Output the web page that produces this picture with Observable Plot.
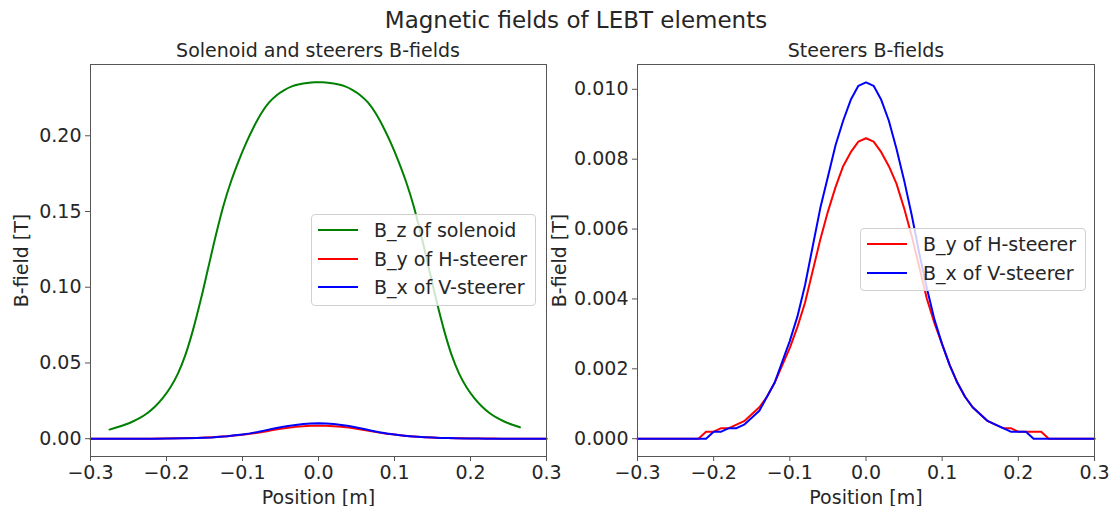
<!DOCTYPE html>
<html>
<head>
<meta charset="utf-8">
<script src="https://cdn.jsdelivr.net/npm/d3@7"></script>
<script src="https://cdn.jsdelivr.net/npm/@observablehq/plot@0.6"></script>
<style>
  html, body { margin: 0; padding: 0; background: #fff; }
  #wrap { position: relative; width: 1112px; height: 506px; overflow: hidden; font-family: "DejaVu Sans", sans-serif; color: #262626; }
  .abs { position: absolute; white-space: nowrap; line-height: normal; }
  .suptitle { font-size: 23px; transform: translateX(-50%); }
  .subtitle { font-size: 19px; transform: translateX(-50%); }
  .plotbox { position: absolute; top: 0; }
  .plotbox svg { overflow: visible; }
  .legend { position: absolute; background: rgba(255,255,255,0.8); border: 1px solid #d0d0d0; border-radius: 4px; box-sizing: border-box; font-size: 19px; }
  .lrow { position: absolute; left: 0; height: 28px; display: flex; align-items: center; }
  .swatch { width: 40px; height: 0; border-top: 2px solid; margin-left: 6px; margin-right: 16px; }
</style>
</head>
<body>
<div id="wrap"></div>
<script>
// ---------- data ----------
const suptitleText = "Magnetic fields of LEBT elements";
const leftTitle = "Solenoid and steerers B-fields";
const rightTitle = "Steerers B-fields";
const xLabel = "Position [m]";
const yLabel = "B-field [T]";

const xTicks = [-0.3, -0.2, -0.1, 0.0, 0.1, 0.2, 0.3];
const leftYTicks = [0.00, 0.05, 0.10, 0.15, 0.20];
const rightYTicks = [0.000, 0.002, 0.004, 0.006, 0.008, 0.010];

const seriesNames = ["B_z of solenoid", "B_y of H-steerer", "B_x of V-steerer"];
const seriesColors = ["green", "#ff0000", "#0000ff"];

// solenoid B_z
const solX = [-0.275, -0.265, -0.255, -0.245, -0.235, -0.225, -0.215, -0.205, -0.195, -0.185,
  -0.175, -0.165, -0.155, -0.145, -0.135, -0.125, -0.115, -0.105, -0.095, -0.085,
  -0.075, -0.065, -0.055, -0.045, -0.035, -0.025, -0.015, -0.005,
  0.005, 0.015, 0.025, 0.035, 0.045, 0.055, 0.065, 0.075, 0.085, 0.095,
  0.105, 0.115, 0.125, 0.135, 0.145, 0.155, 0.165, 0.175, 0.185, 0.195,
  0.205, 0.215, 0.225, 0.235, 0.245, 0.255, 0.265];
const solBz = [0.0060, 0.0075, 0.0092, 0.0112, 0.0137, 0.0170, 0.0213, 0.0268, 0.0338, 0.0430,
  0.0555, 0.0720, 0.0915, 0.1130, 0.1345, 0.1540, 0.1700, 0.1835, 0.1955, 0.2060,
  0.2150, 0.2220, 0.2268, 0.2302, 0.2326, 0.2340, 0.2349, 0.2353,
  0.2353, 0.2349, 0.2340, 0.2326, 0.2302, 0.2268, 0.2220, 0.2150, 0.2060, 0.1955,
  0.1835, 0.1700, 0.1540, 0.1345, 0.1130, 0.0915, 0.0720, 0.0555, 0.0430, 0.0338,
  0.0268, 0.0213, 0.0170, 0.0137, 0.0112, 0.0092, 0.0075];

// steerers
const stX = [-0.30, -0.29, -0.28, -0.27, -0.26, -0.25, -0.24, -0.23, -0.22, -0.21,
  -0.20, -0.19, -0.18, -0.17, -0.16, -0.15, -0.14, -0.13, -0.12, -0.11,
  -0.10, -0.09, -0.08, -0.07, -0.06, -0.05, -0.04, -0.03, -0.02, -0.01,
  0.00, 0.01, 0.02, 0.03, 0.04, 0.05, 0.06, 0.07, 0.08, 0.09,
  0.10, 0.11, 0.12, 0.13, 0.14, 0.15, 0.16, 0.17, 0.18, 0.19,
  0.20, 0.21, 0.22, 0.23, 0.24, 0.25, 0.26, 0.27, 0.28, 0.29, 0.30];
const byH = [0, 0, 0, 0, 0, 0, 0, 0, 0, 0.0002,
  0.0002, 0.0003, 0.0003, 0.0004, 0.0005, 0.0007, 0.0009, 0.0012, 0.0016, 0.0021,
  0.0026, 0.0032, 0.0039, 0.0048, 0.0057, 0.0065, 0.0072, 0.0078, 0.0082, 0.0085,
  0.0086, 0.0085, 0.0082, 0.0078, 0.0073, 0.0066, 0.0058, 0.0049, 0.0040, 0.0033,
  0.0027, 0.0021, 0.0016, 0.0012, 0.0009, 0.0007, 0.0005, 0.0004, 0.0003, 0.0003,
  0.0002, 0.0002, 0.0002, 0.0002, 0, 0, 0, 0, 0, 0, 0];
const bxV = [0, 0, 0, 0, 0, 0, 0, 0, 0, 0,
  0.0002, 0.0002, 0.0003, 0.0003, 0.0004, 0.0006, 0.0008, 0.0012, 0.0016, 0.0022,
  0.0028, 0.0035, 0.0044, 0.0055, 0.0066, 0.0075, 0.0084, 0.0091, 0.0097, 0.0101,
  0.0102, 0.0101, 0.0097, 0.0091, 0.0083, 0.0074, 0.0064, 0.0053, 0.0043, 0.0034,
  0.0027, 0.0021, 0.0016, 0.0012, 0.0009, 0.0007, 0.0005, 0.0004, 0.0003, 0.0002,
  0.0002, 0.0002, 0, 0, 0, 0, 0, 0, 0, 0, 0];

// ---------- build ----------
const sol = solX.map((x, i) => ({x, v: solBz[i]}));
const h = stX.map((x, i) => ({x, v: byH[i]}));
const vv = stX.map((x, i) => ({x, v: bxV[i]}));

const wrap = document.getElementById("wrap");
const font = "DejaVu Sans";
const axisColor = "#555";

function pad(ext) { const m = (ext[1] - ext[0]) * 0.05; return [ext[0] - m, ext[1] + m]; }

function panel({width, left, marginLeft, marginRight, yDomain, yTicks, yFmt, yLabelOffset, series}) {
  const p = Plot.plot({
    width, height: 506,
    marginLeft, marginRight, marginTop: 64, marginBottom: 50,
    style: {fontFamily: font, fontSize: "19px", color: "#262626", background: "transparent", overflow: "visible"},
    x: {domain: [-0.3, 0.3]},
    y: {domain: yDomain},
    marks: [
      ...series.map(s => Plot.line(s.data, {x: "x", y: "v", stroke: s.color, strokeWidth: 2, curve: s.curve || "linear"})),
      Plot.frame({stroke: axisColor, strokeWidth: 1}),
      Plot.axisX({ticks: xTicks, tickFormat: d3.format(".1f"), tickSize: 5, tickPadding: 4, stroke: axisColor,
        label: xLabel, labelAnchor: "center", labelOffset: 47, labelArrow: "none"}),
      Plot.axisY({ticks: yTicks, tickFormat: d3.format(yFmt), tickSize: 5, tickPadding: 4, stroke: axisColor,
        label: yLabel, labelAnchor: "center", labelOffset: yLabelOffset, labelArrow: "none"})
    ]
  });
  const box = document.createElement("div");
  box.className = "plotbox";
  box.style.left = left + "px";
  box.appendChild(p);
  wrap.appendChild(box);
}

panel({
  width: 550, left: 0, marginLeft: 90, marginRight: 4,
  yDomain: pad([0, d3.max(solBz)]), yTicks: leftYTicks, yFmt: ".2f", yLabelOffset: 76,
  series: [
    {data: sol, color: seriesColors[0], curve: "monotone-x"},
    {data: h, color: seriesColors[1]},
    {data: vv, color: seriesColors[2]}
  ]
});
panel({
  width: 562, left: 550, marginLeft: 87, marginRight: 18,
  yDomain: pad([0, d3.max(bxV)]), yTicks: rightYTicks, yFmt: ".3f", yLabelOffset: 85,
  series: [
    {data: h, color: seriesColors[1]},
    {data: vv, color: seriesColors[2]}
  ]
});

function addText(cls, txt, cx, top) {
  const d = document.createElement("div");
  d.className = "abs " + cls;
  d.style.left = cx + "px";
  d.style.top = top + "px";
  d.textContent = txt;
  wrap.appendChild(d);
}
addText("suptitle", suptitleText, 576, 7);
addText("subtitle", leftTitle, 318, 39);
addText("subtitle", rightTitle, 866, 39);

function legend(left, top, width, idxs) {
  const L = document.createElement("div");
  L.className = "legend";
  L.style.left = left + "px";
  L.style.top = top + "px";
  L.style.width = width + "px";
  L.style.height = (idxs.length * 28.7 + 6) + "px";
  idxs.forEach((k, j) => {
    const r = document.createElement("div");
    r.className = "lrow";
    r.style.top = (1 + j * 28.7) + "px";
    const sw = document.createElement("span");
    sw.className = "swatch";
    sw.style.borderTopColor = seriesColors[k];
    const t = document.createElement("span");
    t.textContent = seriesNames[k];
    r.appendChild(sw); r.appendChild(t);
    L.appendChild(r);
  });
  wrap.appendChild(L);
}
legend(311, 214, 225, [0, 1, 2]);
legend(860, 228, 226, [1, 2]);
</script>
</body>
</html>
